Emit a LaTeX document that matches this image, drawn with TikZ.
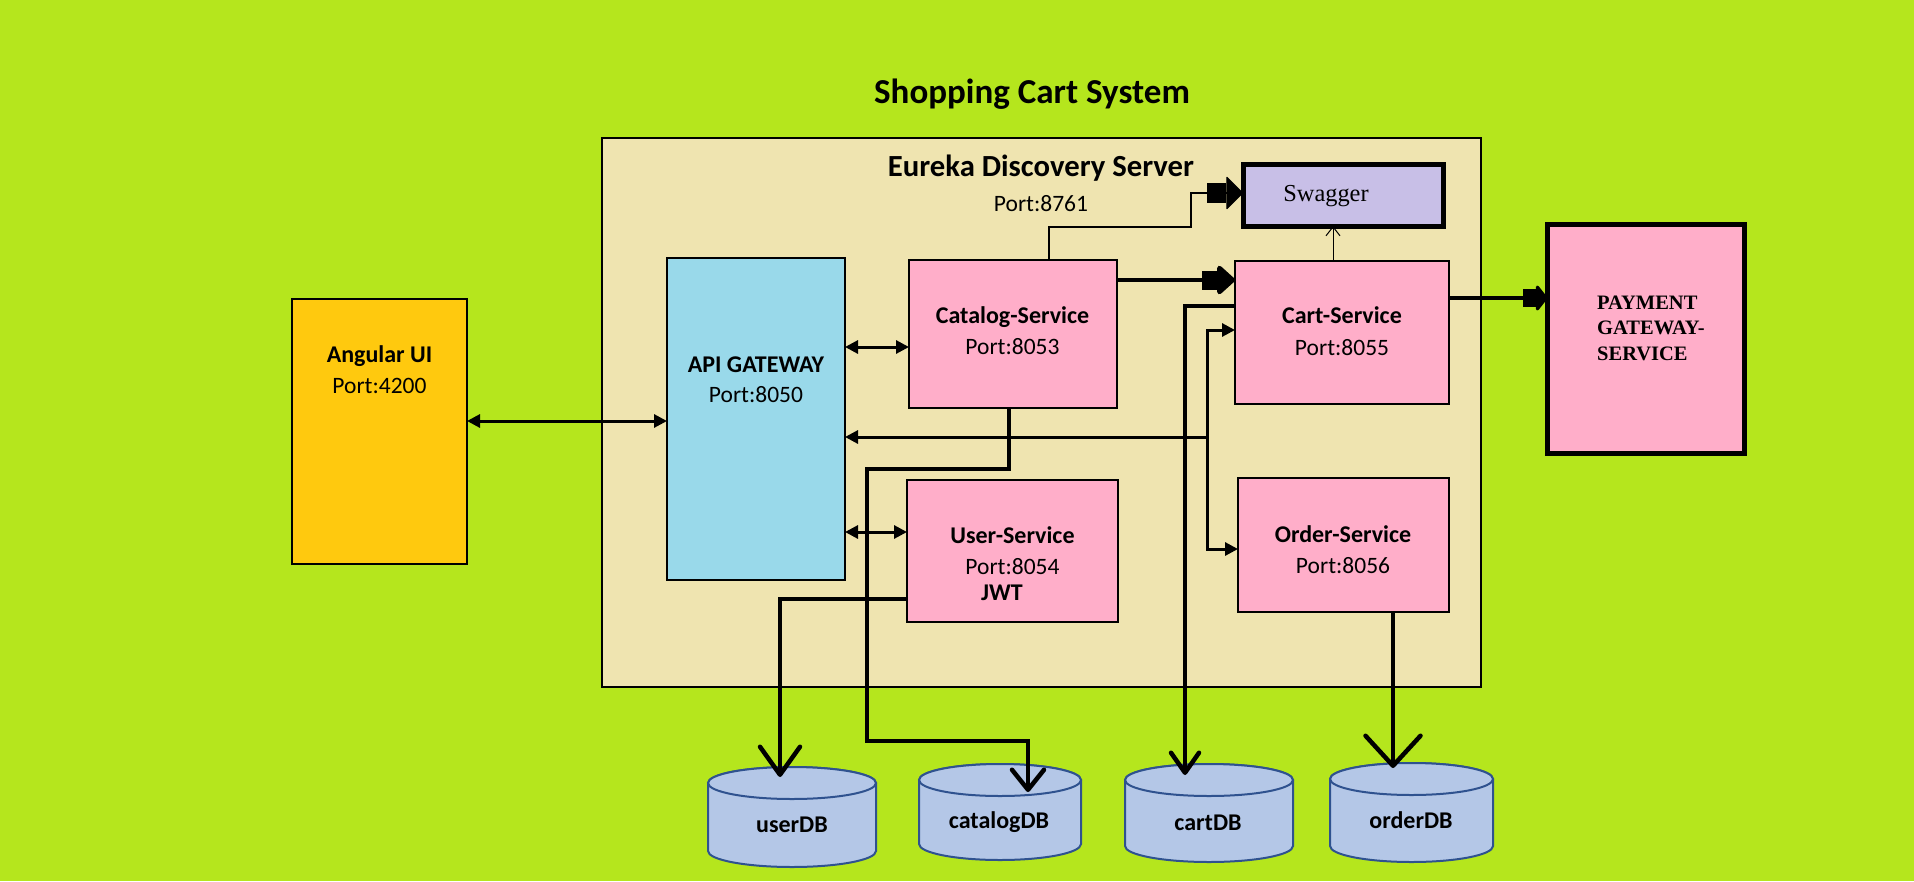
\documentclass[tikz,border=0pt]{standalone}
\usepackage{fontspec}
\setmainfont{Carlito}
\newfontfamily\serifft{Liberation Serif}
\usetikzlibrary{arrows.meta,calc}
\definecolor{bgc}{HTML}{B5E61D}
\definecolor{eurc}{HTML}{EFE4B0}
\definecolor{apic}{HTML}{99D9EA}
\definecolor{pinkc}{HTML}{FFAEC9}
\definecolor{angc}{HTML}{FFC90E}
\definecolor{swgc}{HTML}{C8BFE7}
\definecolor{dbfc}{HTML}{B4C7E7}
\definecolor{dbdc}{HTML}{2F528F}
\newcommand\myfs[1]{\fontsize{#1}{#1}\selectfont}
\newcommand\dbcyl[4]{%
  \pgfmathsetmacro\cx{(#1+#2)/2}\pgfmathsetmacro\rx{(#2-#1)/2}%
  \filldraw[dbs] (#1,#3+16) -- (#1,#4-16) arc[start angle=180,end angle=360,x radius=\rx pt,y radius=16pt] -- (#2,#3+16) arc[start angle=0,end angle=180,x radius=\rx pt,y radius=16pt] -- cycle;
  \draw[dbs] (\cx,#3+16) ellipse[x radius=\rx pt,y radius=16pt];
}
\begin{document}
\begin{tikzpicture}[x=1pt,y=-1pt,
  bx/.style={draw=black, line width=1.3pt, inner sep=0pt, outer sep=0pt, anchor=north west},
  txt/.style={inner sep=0pt, anchor=base},
  bname/.style={txt, font=\bfseries\myfs{24}},
  pname/.style={txt, font=\myfs{23.5}},
  payname/.style={inner sep=0pt, anchor=base west, font=\serifft\bfseries\myfs{20.5}},
  dbs/.style={fill=dbfc, draw=dbdc, line width=2pt},
  dbhold/.style={inner sep=0pt, outer sep=0pt, anchor=north west},
  dblarr/.style={line width=3pt, {Triangle[length=13pt,width=13pt]}-{Triangle[length=13pt,width=13pt]}},
  busarr/.style={line width=3pt, -{Triangle[length=13pt,width=13pt]}},
  fatarr/.style={line width=4.5pt, -{Rectangle[length=15pt,width=19pt] Triangle[length=19pt,width=33pt,round]}},
  dbarr/.style={line width=4.5pt, line join=miter},
]
\useasboundingbox (0,0) rectangle (1914,881);
\fill[bgc] (0,0) rectangle (1914,881);

% title
\node[txt, font=\bfseries\myfs{35}] (title) at (1032,103) {Shopping Cart System};

% eureka
\node[bx, fill=eurc, line width=1.2pt, minimum width=879pt, minimum height=549pt] (eur) at (602,138) {};
\node[txt, font=\bfseries\myfs{30.7}] (eurT) at (1041,176) {Eureka Discovery Server};
\node[pname] (eurP) at (1041,211) {Port:8761};

% swagger
\node[bx, fill=swgc, line width=5pt, minimum width=200pt, minimum height=62pt] (swg) at (1243,164) {};
\node[txt, font=\serifft\myfs{24.4}] (swgT) at (1326,201) {Swagger};

% angular
\node[bx, fill=angc, line width=2pt, minimum width=175pt, minimum height=265pt] (ang) at (292,299) {};
\node[bname] (angT) at (379.5,362) {Angular UI};
\node[pname] (angP) at (379.5,393) {Port:4200};

% api gateway
\node[bx, fill=apic, minimum width=178pt, minimum height=322pt] (api) at (667,258) {};
\node[bname] (apiT) at (756,372) {API GATEWAY};
\node[pname] (apiP) at (756,402) {Port:8050};

% catalog
\node[bx, fill=pinkc, minimum width=208pt, minimum height=148pt] (cat) at (909,260) {};
\node[bname] (catT) at (1012.5,323) {Catalog-Service};
\node[pname] (catP) at (1012.5,354) {Port:8053};

% cart
\node[bx, fill=pinkc, minimum width=214pt, minimum height=143pt] (crt) at (1235,261) {};
\node[bname] (crtT) at (1342,323) {Cart-Service};
\node[pname] (crtP) at (1342,355) {Port:8055};

% user
\node[bx, fill=pinkc, minimum width=211pt, minimum height=142pt] (usr) at (907,480) {};
\node[bname] (usrT) at (1012.5,543) {User-Service};
\node[pname] (usrP) at (1012.5,574) {Port:8054};
\node[bname] (usrJ) at (1002,600) {JWT};

% order
\node[bx, fill=pinkc, minimum width=211pt, minimum height=134pt] (ord) at (1238,478) {};
\node[bname] (ordT) at (1343,542) {Order-Service};
\node[pname] (ordP) at (1343,573) {Port:8056};

% payment
\node[bx, fill=pinkc, line width=5pt, minimum width=197pt, minimum height=229pt] (pay) at (1547.5,224.5) {};
\node[payname] (payT1) at (1597,309) {PAYMENT};
\node[payname] (payT2) at (1597,334.5) {GATEWAY-};
\node[payname] (payT3) at (1597,360) {SERVICE};

% databases
\dbcyl{708}{876}{767}{867}
\node[dbhold, minimum width=168pt, minimum height=100pt] (udb) at (708,767) {};
\node[bname] (udbT) at (792,832) {userDB};
\dbcyl{919}{1081}{764}{860}
\node[dbhold, minimum width=162pt, minimum height=96pt] (kdb) at (919,764) {};
\node[bname] (kdbT) at (999,828) {catalogDB};
\dbcyl{1125}{1293}{764}{862}
\node[dbhold, minimum width=168pt, minimum height=98pt] (cdb) at (1125,764) {};
\node[bname] (cdbT) at (1208,830) {cartDB};
\dbcyl{1330}{1493}{763}{862}
\node[dbhold, minimum width=163pt, minimum height=99pt] (odb) at (1330,763) {};
\node[bname] (odbT) at (1411,828) {orderDB};

% connectors
\draw[dblarr] (ang.east |- 0,421) -- (api.west |- 0,421);
\draw[dblarr] (api.east |- 0,347) -- (cat.west |- 0,347);
\draw[dblarr] (api.east |- 0,532) -- (usr.west |- 0,532);

\draw[fatarr] (cat.east |- 0,280) -- (crt.west |- 0,280);
\draw[line width=4pt, -{Rectangle[length=13pt,width=18pt] Triangle[length=12pt,width=30pt,round]}] (crt.east |- 0,298) -- (pay.west |- 0,298);
\draw[line width=1.3pt, -{Rectangle[length=19pt,width=20pt] Triangle[length=17pt,width=34pt,round]}]
  (cat.north -| 1049,0) |- (1191,227) |- (swg.west |- 0,193);
\draw[line width=1pt, -{Straight Barb[length=9pt,width=14pt]}] (crt.north -| 1333,0) -- (swg.south -| 1333,0);

% bus from cart/order to api
\coordinate (bus) at (1207,437);
\draw[busarr] (bus) -- (api.east |- bus);
\draw[busarr] (bus) |- (crt.west |- 0,330);
\draw[busarr] (bus) |- (ord.west |- 0,549);

% database links
\draw[dbarr, -{Straight Barb[length=28pt,width=40pt,round]}] (usr.west |- 0,599) -| ($(udb.north)+(-12,10)$);
\draw[dbarr, -{Straight Barb[length=20pt,width=32pt,round]}] (cat.south -| 1009,0) |- (867,469) |- (1028,741) -- ($(kdb.north)+(28,28)$);
\draw[dbarr, -{Straight Barb[length=20pt,width=28pt,round]}] (crt.west |- 0,306) -| ($(cdb.north)+(-24,11)$);
\draw[dbarr, -{Straight Barb[length=30pt,width=55pt,round]}] (ord.south -| 1393,0) -- ($(odb.north)+(-18.5,5)$);
\end{tikzpicture}
\end{document}
